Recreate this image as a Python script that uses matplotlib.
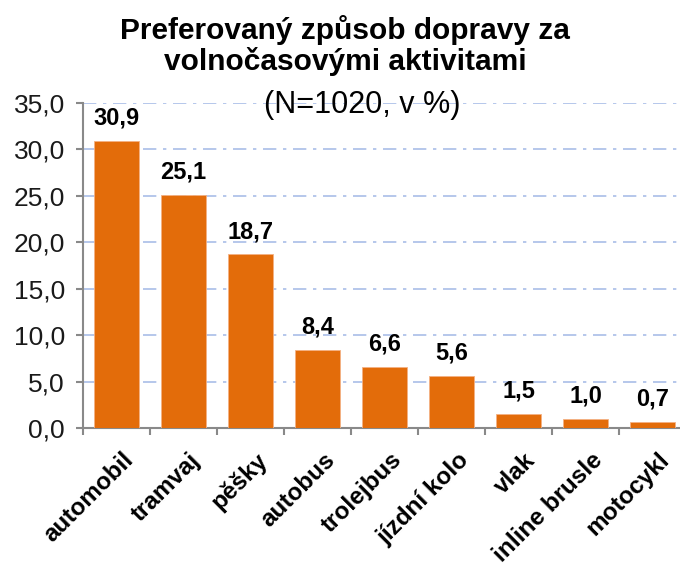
import matplotlib
matplotlib.use("Agg")
import matplotlib.pyplot as plt
from matplotlib.ticker import FuncFormatter, MultipleLocator

categories = ["automobil", "tramvaj", "pěšky", "autobus", "trolejbus",
              "jízdní kolo", "vlak", "inline brusle", "motocykl"]
values = [30.9, 25.1, 18.7, 8.4, 6.6, 5.6, 1.5, 1.0, 0.7]
title_main = "Preferovaný způsob dopravy za\nvolnočasovými aktivitami"
title_sub = "(N=1020, v %)"

plt.rcParams['font.family'] = ['Liberation Sans', 'DejaVu Sans']

fig = plt.figure(figsize=(6.8, 5.65), dpi=100)
ax = fig.add_axes([83/680, 1-428/565, 603/680, 325/565])

x = list(range(len(categories)))
bars = ax.bar(x, values, width=0.68, color="#E36C0A", edgecolor="#F4B183",
              linewidth=0.6, zorder=3)

ax.set_xlim(-0.5, len(categories) - 0.5)
ax.set_ylim(0, 35)
ax.yaxis.set_major_locator(MultipleLocator(5))
ax.yaxis.set_major_formatter(FuncFormatter(lambda v, p: f"{v:.1f}".replace(".", ",")))

ax.grid(axis="y", color="#A9BEE8", linewidth=1.2, linestyle=(0, (8, 4, 2, 4)), zorder=0)
ax.set_axisbelow(True)

for s in ["top", "right"]:
    ax.spines[s].set_visible(False)
for s in ["left", "bottom"]:
    ax.spines[s].set_color("#898989")
    ax.spines[s].set_linewidth(1.5)

# category boundary ticks on x
ax.set_xticks([i - 0.5 for i in range(len(categories) + 1)], minor=False)
ax.set_xticklabels([])
ax.tick_params(axis="x", length=5, width=1.5, color="#898989")
ax.tick_params(axis="y", length=5, width=1.5, color="#898989", labelsize=19, pad=8)
for lbl in ax.get_yticklabels():
    lbl.set_color("#1a1a1a")

for i, c in enumerate(categories):
    ax.text(i + 0.08, -2.2, c, rotation=45, ha="right", va="top",
            rotation_mode="anchor", fontsize=17.5, fontweight="bold",
            transform=ax.transData, clip_on=False)

for i, v in enumerate(values):
    ax.text(i, v + 1.2, f"{v:.1f}".replace(".", ","), ha="center", va="bottom",
            fontsize=17, fontweight="bold", zorder=4)

fig.text(345/680, 1-15/565, title_main, ha="center", va="top", fontsize=21.5,
         fontweight="bold", linespacing=1.1)
fig.text(362/680, 1-105/565, title_sub, ha="center", va="center", fontsize=22)

fig.savefig("out.png", dpi=100)
